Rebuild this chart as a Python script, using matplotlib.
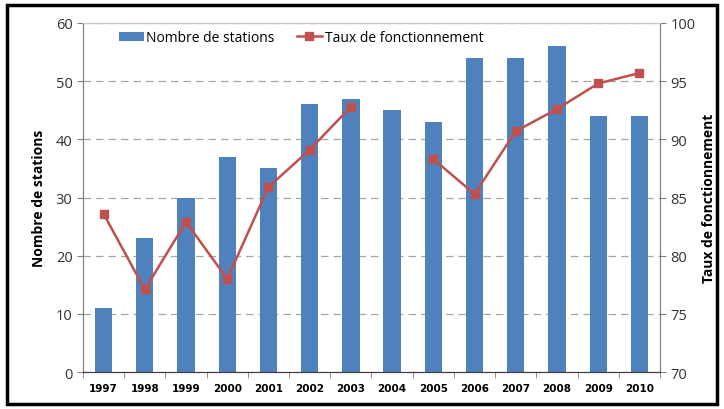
import matplotlib.pyplot as plt
import numpy as np
from matplotlib.patches import Rectangle

# data
years = ['1997', '1998', '1999', '2000', '2001', '2002', '2003',
         '2004', '2005', '2006', '2007', '2008', '2009', '2010']
stations = [11, 23, 30, 37, 35, 46, 47, 45, 43, 54, 54, 56, 44, 44]
# 2004 has no value (gap in the line)
taux = [83.6, 77.1, 82.9, 78.0, 85.9, 89.1, 92.8,
        np.nan, 88.3, 85.3, 90.7, 92.6, 94.8, 95.7]

plt.rcParams['font.family'] = ['Open Sans', 'DejaVu Sans']

fig = plt.figure(figsize=(7.24, 4.10), dpi=100)
ax = fig.add_axes([0.1146, 0.0902, 0.797, 0.8513])
ax2 = ax.twinx()

x = np.arange(len(years))
ax.bar(x, stations, width=0.42, color='#4F81BD', zorder=2,
       label='Nombre de stations')
ax2.plot(x, taux, color='#C0504D', lw=1.8, marker='s', ms=6,
         label='Taux de fonctionnement', zorder=3)

ax.set_xlim(-0.5, len(years) - 0.5)
ax.set_ylim(0, 60)
ax2.set_ylim(70, 100)
ax.set_yticks(range(0, 61, 10))
ax2.set_yticks(range(70, 101, 5))

ax.yaxis.grid(True, ls=(0, (6, 4)), color='#a6a6a6', lw=0.9, zorder=0)
ax.set_axisbelow(True)

ax.set_xticks(x)
ax.set_xticklabels(years, fontsize=7.5, fontweight='bold', family='DejaVu Sans')
ax.set_xticks(np.arange(-0.5, len(years)), minor=True)
ax.tick_params(axis='x', which='major', length=0, pad=8)
ax.tick_params(axis='x', which='minor', length=4, color='#808080')
ax.tick_params(axis='y', labelsize=10.5, length=4, color='#808080', colors='#333333')
ax2.tick_params(axis='y', labelsize=10.5, length=4, color='#808080', colors='#333333')

for a in (ax, ax2):
    a.spines['left'].set_color('#808080')
    a.spines['right'].set_color('#808080')
    a.spines['bottom'].set_color('#404040')
    a.spines['top'].set_color('#c8c8c8')

ax.set_ylabel('Nombre de stations', fontsize=10, fontweight='bold', labelpad=7)
ax2.set_ylabel('Taux de fonctionnement', fontsize=10, fontweight='bold', labelpad=5)

h1, l1 = ax.get_legend_handles_labels()
h2, l2 = ax2.get_legend_handles_labels()
ax2.legend(h1 + h2, l1 + l2, loc='upper left', bbox_to_anchor=(0.04, 1.015),
           ncol=2, frameon=False, fontsize=10, handlelength=1.8,
           handletextpad=0.2, columnspacing=1.6)

# black frame around the whole picture
fig.patches.append(Rectangle((0.009, 0.012), 0.982, 0.973, transform=fig.transFigure,
                             fill=False, ec='black', lw=2.5))

fig.savefig('out.png', dpi=100)
